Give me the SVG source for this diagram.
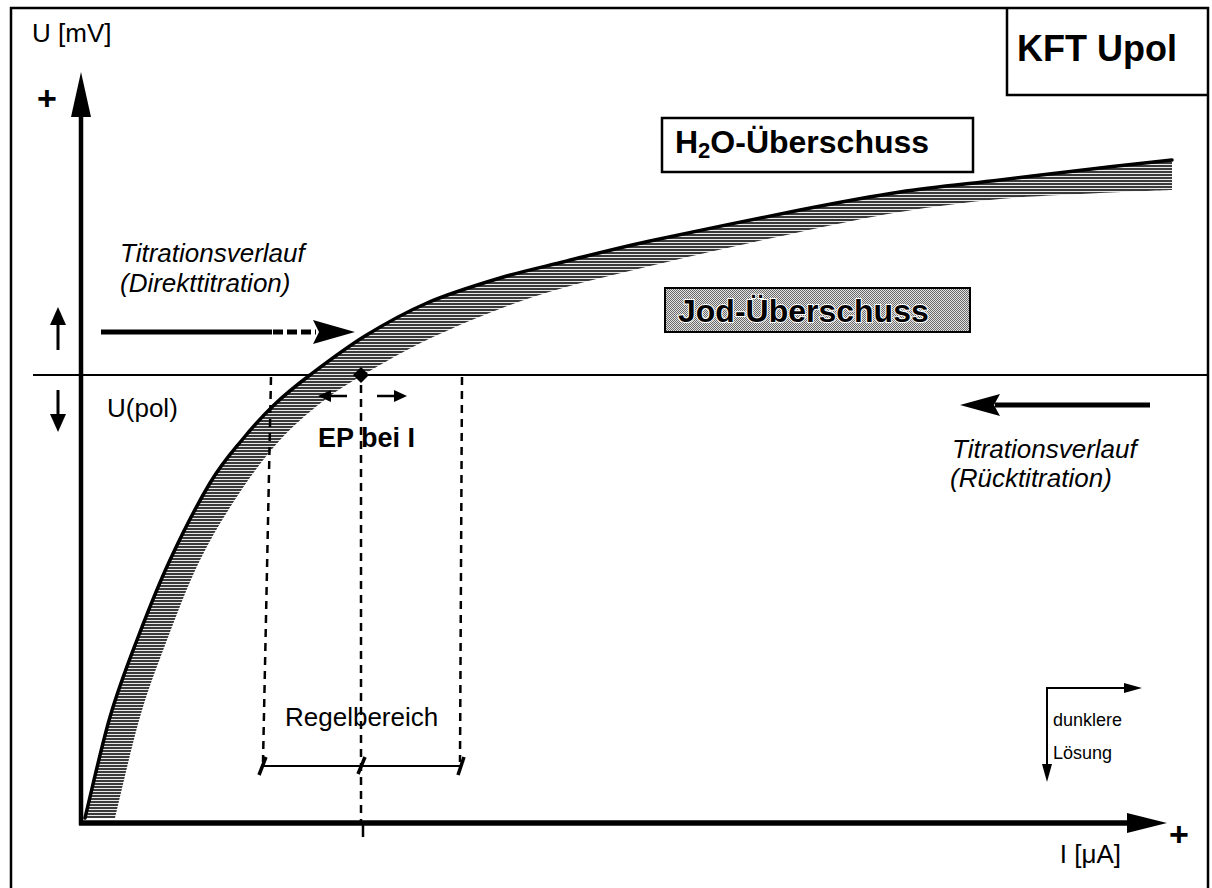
<svg xmlns="http://www.w3.org/2000/svg" width="1212" height="888" viewBox="0 0 1212 888">
<style>
  .t { font-family: "Liberation Sans", Arial, sans-serif; fill: #000; }
  .reg { font-size: 26px; }
  .it { font-size: 26px; font-style: italic; }
  .bold { font-weight: bold; }
  .ln { stroke: #000; fill: none; }
  .dash { stroke: #000; stroke-width: 2.5; stroke-dasharray: 8 6; fill: none; }
  .head { fill: #000; stroke: none; }
</style>
<defs>
  <pattern id="hatch" patternUnits="userSpaceOnUse" width="6" height="3">
    <rect width="6" height="3" fill="#e8e8e8"/>
    <rect width="6" height="2" fill="#3a3a3a"/>
  </pattern>
  <pattern id="checker" patternUnits="userSpaceOnUse" width="2" height="2">
    <rect width="2" height="2" fill="#e2e2e2"/>
    <rect width="1" height="1" fill="#6a6a6a"/>
    <rect x="1" y="1" width="1" height="1" fill="#6a6a6a"/>
  </pattern>
</defs>
<rect width="1212" height="888" fill="#fff"/>

<g id="frame">
  <path class="ln" stroke-width="2.5" d="M11 888 V8 H1208 V888"/>
</g>

<g id="title">
  <path class="ln" stroke-width="2.5" d="M1007 8 V95 H1208"/>
  <text class="t bold" x="1017" y="61" font-size="36">KFT Upol</text>
</g>

<g id="axes">
  <line class="ln" x1="81" y1="112" x2="81" y2="825" stroke-width="4.5"/>
  <polygon class="head" points="81,72 91,117 71,117"/>
  <line class="ln" x1="79" y1="823" x2="1132" y2="823" stroke-width="5.5"/>
  <polygon class="head" points="1167,823 1127,813 1127,833"/>
  <line class="ln" x1="363" y1="823" x2="363" y2="837" stroke-width="2.5"/>
  <text class="t reg" x="32" y="42">U [mV]</text>
  <text class="t bold" x="47" y="110" font-size="34" text-anchor="middle">+</text>
  <text class="t bold" x="1179" y="846" font-size="34" text-anchor="middle">+</text>
  <text class="t reg" x="1121" y="863" text-anchor="end">I [μA]</text>
</g>

<g id="upol">
  <line class="ln" x1="33" y1="375" x2="1208" y2="375" stroke-width="2"/>
  <text class="t reg" x="107" y="417">U(pol)</text>
</g>

<g id="curve">
  <path fill="url(#hatch)" stroke="none" d="M85 818 C89.2 801.2,101.3 746.7,110 717 C118.7 687.3,127 666.2,137 640 C147 613.8,157.8 586.2,170 560 C182.2 533.8,198 503,210 483 C222 463,231.3 453,242 440 C252.7 427,262.7 415.8,274 405 C285.3 394.2,294.8 386.5,310 375 C325.2 363.5,345.5 348,365 336 C384.5 324,404.5 312.7,427 303 C449.5 293.3,476.7 285,500 278 C523.3 271,542 267.2,567 261 C592 254.8,611.2 249.5,650 241 C688.8 232.5,758.3 218.2,800 210 C841.7 201.8,866.7 197,900 192 C933.3 187,966.7 184,1000 180 C1033.3 176,1071.3 171.3,1100 168 C1128.7 164.7,1160 161.3,1172 160 L1172 190 C1160 190.5,1128.7 191.5,1100 193 C1071.3 194.5,1033.3 195.8,1000 199 C966.7 202.2,933.3 206.5,900 212 C866.7 217.5,841.7 223,800 232 C758.3 241,694.5 255.2,650 266 C605.5 276.8,569.2 285.2,533 297 C496.8 308.8,461.3 324,433 337 C404.7 350,381.5 364.2,363 375 C344.5 385.8,335.8 391.2,322 402 C308.2 412.8,293.7 425,280 440 C266.3 455,253.3 472,240 492 C226.7 512,212.2 535.3,200 560 C187.8 584.7,177 613.8,167 640 C157 666.2,148.7 687.3,140 717 C131.3 746.7,119.2 801.2,115 818 Z"/>
  <path class="ln" stroke-width="3.5" stroke-linecap="round" d="M85 818 C89.2 801.2,101.3 746.7,110 717 C118.7 687.3,127 666.2,137 640 C147 613.8,157.8 586.2,170 560 C182.2 533.8,198 503,210 483 C222 463,231.3 453,242 440 C252.7 427,262.7 415.8,274 405 C285.3 394.2,294.8 386.5,310 375 C325.2 363.5,345.5 348,365 336 C384.5 324,404.5 312.7,427 303 C449.5 293.3,476.7 285,500 278 C523.3 271,542 267.2,567 261 C592 254.8,611.2 249.5,650 241 C688.8 232.5,758.3 218.2,800 210 C841.7 201.8,866.7 197,900 192 C933.3 187,966.7 184,1000 180 C1033.3 176,1071.3 171.3,1100 168 C1128.7 164.7,1160 161.3,1172 160"/>
</g>

<g id="h2o">
  <rect x="662" y="118" width="311" height="54" fill="#fff" stroke="#000" stroke-width="2.5"/>
  <text class="t bold" x="675" y="153" font-size="32">H<tspan font-size="22" dy="5">2</tspan><tspan dy="-5">O-Überschuss</tspan></text>
</g>

<g id="jod">
  <rect x="665" y="288" width="305" height="44" fill="url(#checker)" stroke="#000" stroke-width="2"/>
  <text class="t bold" x="678" y="322" font-size="32" stroke="#fff" stroke-width="2" paint-order="stroke">Jod-Überschuss</text>
</g>

<g id="direkt">
  <text class="t it" x="120" y="262">Titrationsverlauf</text>
  <text class="t it" x="120" y="292">(Direkttitration)</text>
</g>

<g id="rueck">
  <text class="t it" x="952" y="458">Titrationsverlauf</text>
  <text class="t it" x="950" y="487">(Rücktitration)</text>
</g>

<g id="ep">
  <polygon class="head" points="361,367 369,375 361,383 353,375"/>
  <text class="t bold" x="318" y="447" font-size="27">EP bei I</text>
</g>

<g id="regel">
  <text class="t reg" x="285" y="726">Regelbereich</text>
  <line class="ln" x1="262" y1="766" x2="461" y2="766" stroke-width="2"/>
  <line class="ln" x1="259" y1="775" x2="266" y2="757" stroke-width="3.5"/>
  <line class="ln" x1="358" y1="774" x2="365" y2="757" stroke-width="3.5"/>
  <line class="ln" x1="458" y1="775" x2="464" y2="757" stroke-width="3.5"/>
</g>

<g id="dunkel">
  <text class="t" x="1053" y="726" font-size="18">dunklere</text>
  <text class="t" x="1053" y="759" font-size="18">Lösung</text>
</g>

<g id="connectors">
  <line class="dash" x1="271" y1="377" x2="263" y2="762"/>
  <line class="dash" x1="361" y1="385" x2="361" y2="823"/>
  <line class="dash" x1="462" y1="377" x2="460" y2="762"/>
  <line class="ln" x1="58" y1="350" x2="58" y2="320" stroke-width="3"/>
  <polygon class="head" points="58,307 50,325 66,325"/>
  <line class="ln" x1="58" y1="390" x2="58" y2="419" stroke-width="3"/>
  <polygon class="head" points="58,432 50,414 66,414"/>
  <line class="ln" x1="101" y1="332" x2="272" y2="332" stroke-width="5"/>
  <line class="ln" x1="273" y1="332" x2="316" y2="332" stroke-width="5" stroke-dasharray="10 4"/>
  <polygon class="head" points="355,332 313,320 319,332 313,344"/>
  <line class="ln" x1="995" y1="405" x2="1150" y2="405" stroke-width="5"/>
  <polygon class="head" points="960,405 1000,394 994,405 1000,416"/>
  <line class="ln" x1="347" y1="396" x2="328" y2="396" stroke-width="2.5"/>
  <polygon class="head" points="318,396 331,390 331,402"/>
  <line class="ln" x1="377" y1="396" x2="396" y2="396" stroke-width="2.5"/>
  <polygon class="head" points="407,396 394,390 394,402"/>
  <path class="ln" stroke-width="2" d="M1047 768 V688 H1128"/>
  <polygon class="head" points="1142,688 1124,683 1124,693"/>
  <polygon class="head" points="1047,782 1042,764 1052,764"/>
</g>
</svg>
